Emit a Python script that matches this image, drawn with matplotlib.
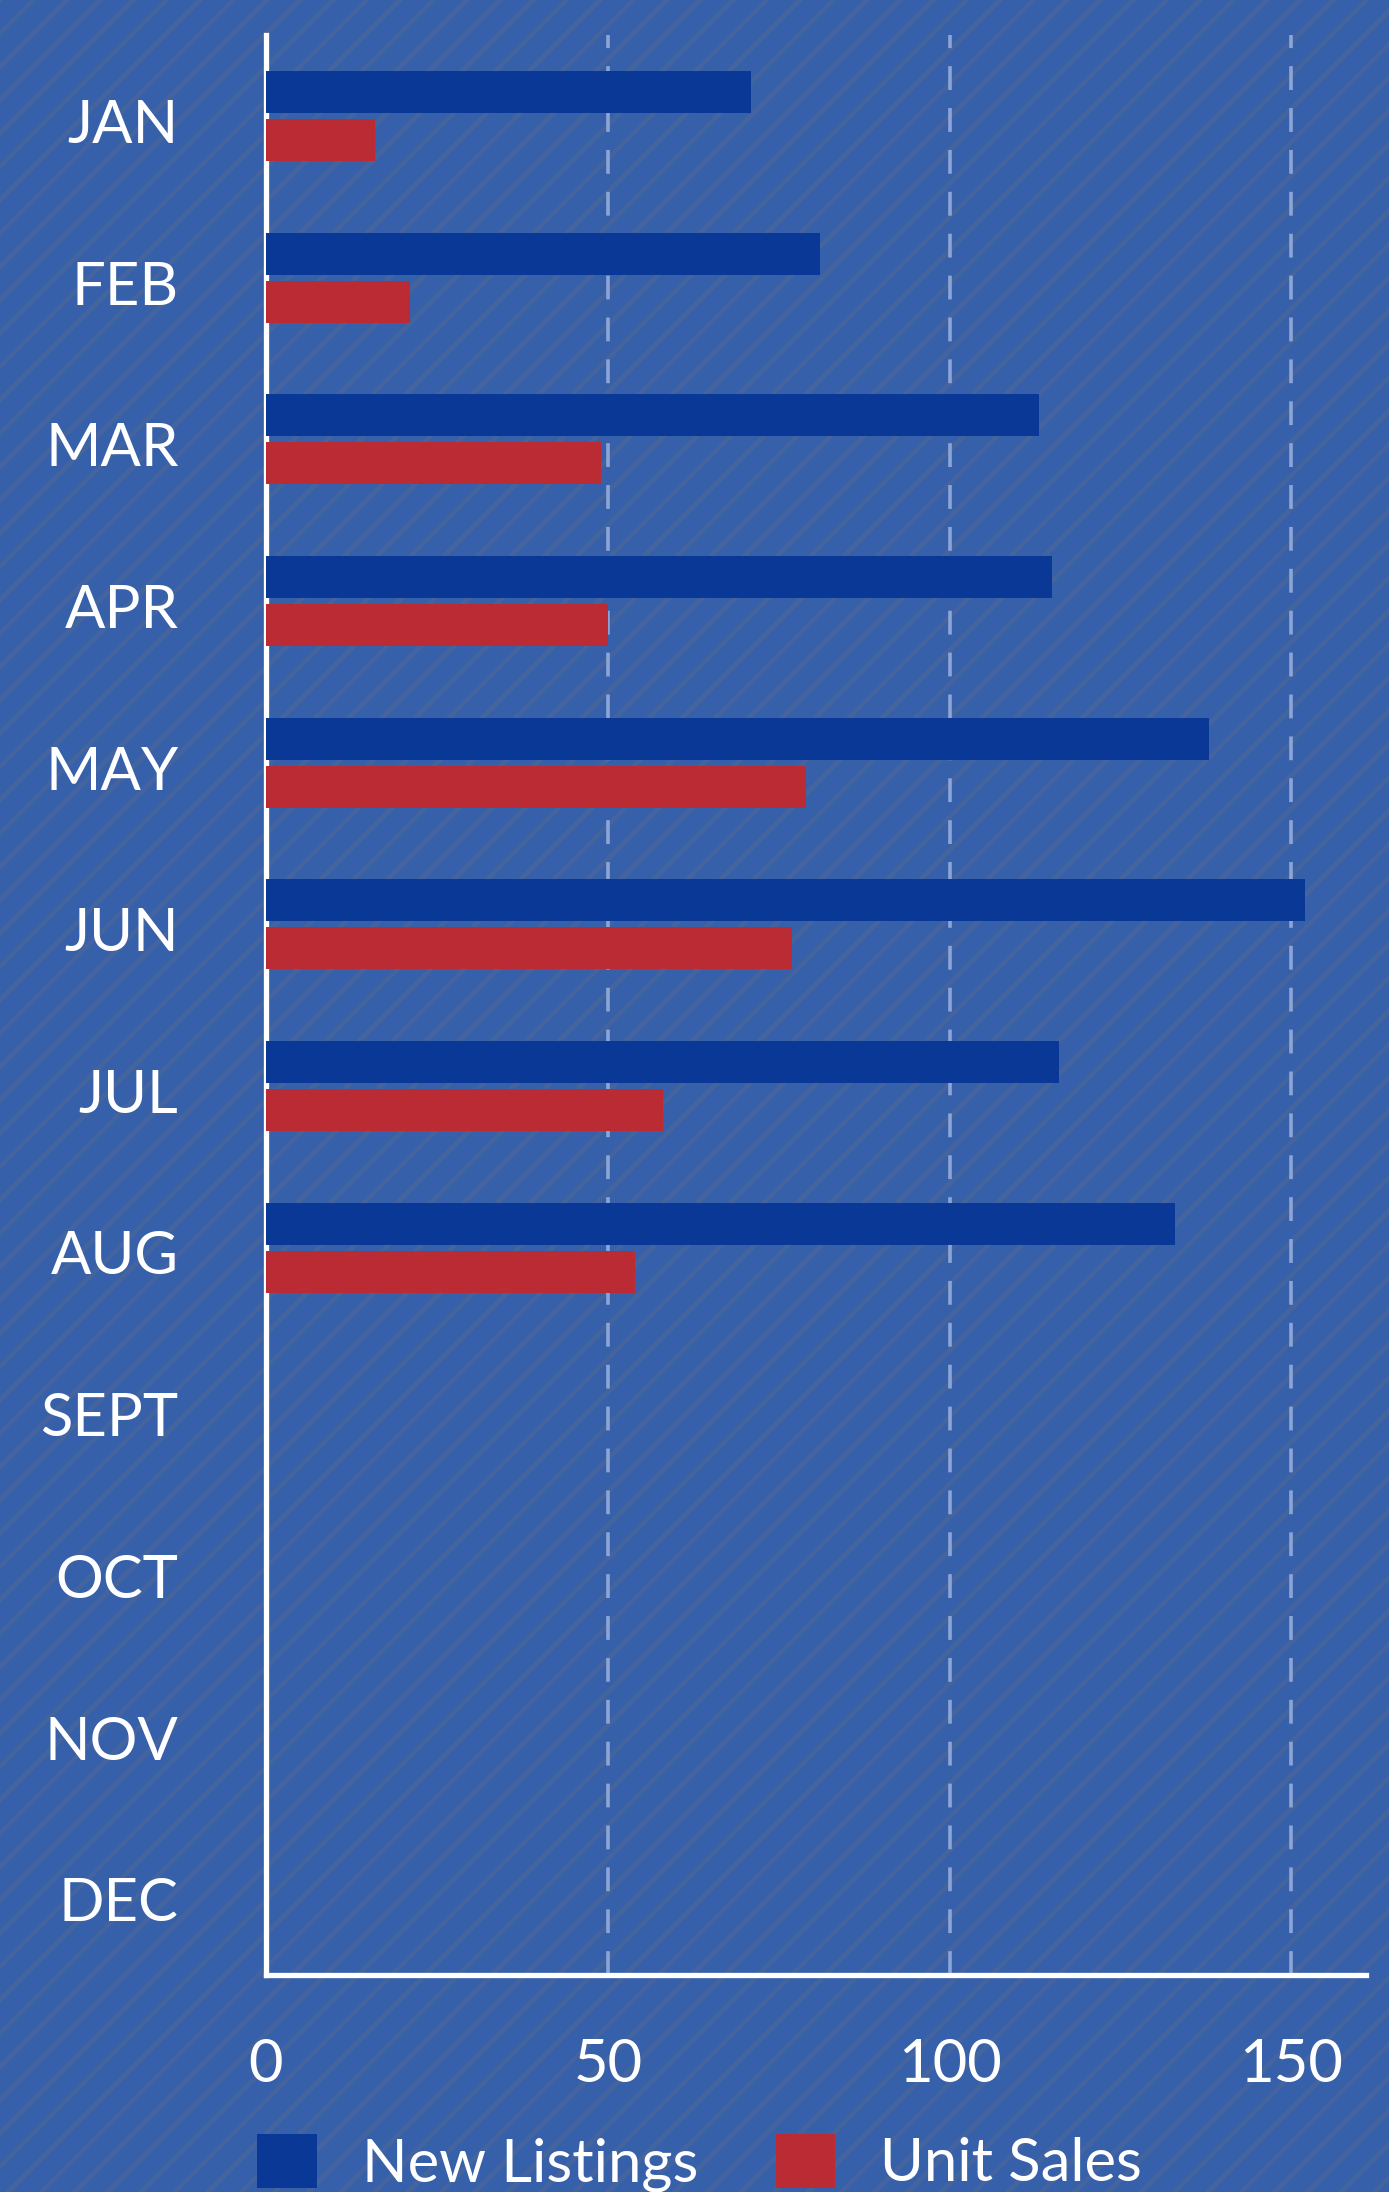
import matplotlib as mpl
import matplotlib.pyplot as plt
from matplotlib.patches import Rectangle, FancyBboxPatch
from matplotlib.legend_handler import HandlerPatch
from matplotlib.transforms import ScaledTranslation
import numpy as np

# data
months = ['JAN', 'FEB', 'MAR', 'APR', 'MAY', 'JUN', 'JUL', 'AUG', 'SEPT', 'OCT', 'NOV', 'DEC']
new_listings = [71, 81, 113, 115, 138, 152, 116, 133]
unit_sales = [16, 21, 49, 50, 79, 77, 58, 54]
xticks = [0, 50, 100, 150]

BG = '#3760AA'
BLUE = '#0A3897'
RED = '#BA2B34'
GRID = '#8CA5D6'

plt.rcParams['font.family'] = ['Lato', 'DejaVu Sans']
plt.rcParams['hatch.linewidth'] = 3.5

fig = plt.figure(figsize=(13.89, 21.92), dpi=100)
fig.patch.set_facecolor(BG)
# diagonal texture on the background
fig.patches.append(Rectangle((0, 0), 1, 1, transform=fig.transFigure, facecolor='none',
                             edgecolor='#44649F', hatch='/', linewidth=0, zorder=-10))

ax = fig.add_axes([266/1389, 1-1975/2192, 1100/1389, 1940/2192])
ax.set_facecolor('none')

y = np.arange(len(new_listings))
ax.barh(y - 0.148, new_listings, height=0.26, color=BLUE, zorder=3, label='New Listings')
ax.barh(y + 0.150, unit_sales, height=0.26, color=RED, zorder=3, label='Unit Sales')

ax.set_ylim(11.5, -0.5)
ax.set_xlim(0, 160.9)
ax.set_yticks(np.arange(len(months)))
ax.set_yticklabels(months)
ax.set_xticks(xticks)

ax.tick_params(axis='both', length=0, colors='white', labelsize=43)
ax.tick_params(axis='y', pad=63)
ax.tick_params(axis='x', pad=45)

# nudge month labels down a little
shift = ScaledTranslation(0, -5/100, fig.dpi_scale_trans)
for lab in ax.get_yticklabels():
    lab.set_transform(lab.get_transform() + shift)

for side in ['top', 'right']:
    ax.spines[side].set_visible(False)
for side in ['left', 'bottom']:
    ax.spines[side].set_color('white')
    ax.spines[side].set_linewidth(3.8)

ax.xaxis.grid(True, color=GRID, linewidth=2.6, dashes=(6.6, 5.0), zorder=1)
ax.set_axisbelow(True)


class RoundHandler(HandlerPatch):
    def create_artists(self, legend, orig_handle, xdescent, ydescent, width, height, fontsize, trans):
        p = FancyBboxPatch((-xdescent, -ydescent), width, height,
                           boxstyle='round,pad=0,rounding_size=4',
                           facecolor=orig_handle.get_facecolor(), edgecolor='none', transform=trans)
        return [p]


h, l = ax.get_legend_handles_labels()
fig.legend(h, l, loc='center left', bbox_to_anchor=(257/1389, 1-2163/2192), ncol=2,
           frameon=False, fontsize=43, labelcolor='white', handlelength=1.0, handleheight=1.0,
           handletextpad=0.75, columnspacing=1.3, borderpad=0, borderaxespad=0,
           handler_map={mpl.patches.Rectangle: RoundHandler()})

plt.savefig('out.png', dpi=100, facecolor=BG)
